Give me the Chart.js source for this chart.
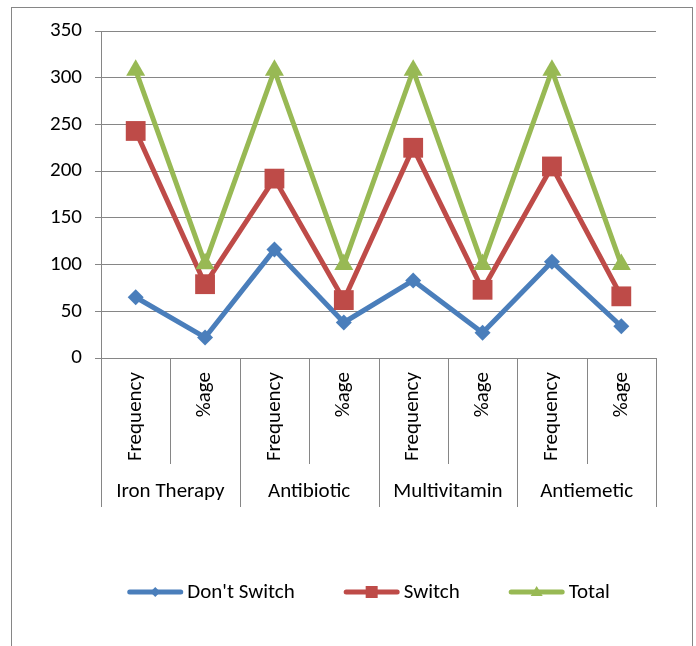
<!DOCTYPE html>
<html>
<head>
<meta charset="utf-8">
<title>Switching by drug class</title>
<script src="https://cdn.jsdelivr.net/npm/chart.js@4/dist/chart.umd.min.js"></script>
<style>
  html, body { margin: 0; padding: 0; background: #fff; }
  canvas { display: block; }
</style>
</head>
<body>
<canvas id="chart" width="696" height="646"></canvas>
<script>
// Drug classes and the two measures reported for each
const groups = ["Iron Therapy", "Antibiotic", "Multivitamin", "Antiemetic"];
const subLabels = ["Frequency", "%age"];
const categories = groups.flatMap(g => subLabels.map(s => s));

// Series values (Frequency, %age per drug class)
const dontSwitch = [65, 22, 116, 38, 83, 27, 103, 34];
const switched   = [243, 79, 192, 62, 225, 73, 205, 66];
const total      = [308, 101, 308, 100, 308, 100, 308, 100];

const yTicks = [0, 50, 100, 150, 200, 250, 300, 350];

const FONT = "Carlito, 'Liberation Sans', Arial, sans-serif";
const FONT_SIZE = 21;
const GRID = "#868686";
const BLUE = "#4A7EBB", RED = "#BE4B48", GREEN = "#98B954";

// Outer frame around the whole chart
const frame = {
  id: 'frame',
  beforeDraw(chart) {
    const ctx = chart.ctx;
    ctx.save();
    ctx.fillStyle = '#fff';
    ctx.fillRect(0, 0, chart.width, chart.height);
    ctx.strokeStyle = GRID;
    ctx.lineWidth = 1;
    ctx.strokeRect(11.5, 7.5, 681, 700);
    ctx.restore();
  }
};

// Two-level category axis: dividers plus drug-class labels
const groupAxis = {
  id: 'groupAxis',
  afterDraw(chart) {
    const x = chart.scales.x, ctx = chart.ctx;
    const top = x.top;
    const step = x.getPixelForValue(1) - x.getPixelForValue(0);
    ctx.save();
    ctx.strokeStyle = GRID;
    ctx.lineWidth = 1;
    for (let i = 0; i <= categories.length; i++) {
      const px = Math.round(x.getPixelForValue(i) - step / 2) + 0.5;
      const long = i % subLabels.length === 0;
      ctx.beginPath();
      ctx.moveTo(px, top);
      ctx.lineTo(px, top + (long ? 149 : 106));
      ctx.stroke();
    }
    ctx.fillStyle = '#000';
    ctx.font = FONT_SIZE + "px " + FONT;
    ctx.textAlign = 'center';
    ctx.textBaseline = 'middle';
    groups.forEach((g, gi) => {
      const a = x.getPixelForValue(gi * subLabels.length);
      const b = x.getPixelForValue(gi * subLabels.length + subLabels.length - 1);
      ctx.fillText(g, (a + b) / 2, top + 134);
    });
    ctx.restore();
  }
};

// Legend with line + marker samples
const lineLegend = {
  id: 'lineLegend',
  afterDraw(chart) {
    const ctx = chart.ctx;
    const y = 592, lineLen = 56, gap = 4, itemGap = 49;
    ctx.save();
    ctx.font = FONT_SIZE + "px " + FONT;
    ctx.textBaseline = 'middle';
    const items = chart.data.datasets.map(ds => ({
      text: ds.label, color: ds.borderColor, style: ds.pointStyle,
      w: lineLen + gap + ctx.measureText(ds.label).width
    }));
    const totalW = items.reduce((s, it) => s + it.w, 0) + itemGap * (items.length - 1);
    let x = 368.5 - totalW / 2;
    items.forEach(it => {
      ctx.strokeStyle = it.color;
      ctx.lineWidth = 5;
      ctx.lineCap = 'round';
      ctx.beginPath();
      ctx.moveTo(x + 2.5, y);
      ctx.lineTo(x + lineLen - 2.5, y);
      ctx.stroke();
      ctx.fillStyle = it.color;
      const cx = x + lineLen / 2;
      ctx.beginPath();
      if (it.style === 'rectRot') {
        ctx.moveTo(cx, y - 5); ctx.lineTo(cx + 5, y); ctx.lineTo(cx, y + 5); ctx.lineTo(cx - 5, y);
      } else if (it.style === 'rect') {
        ctx.rect(cx - 6, y - 6, 12, 12);
      } else {
        ctx.moveTo(cx, y - 6); ctx.lineTo(cx + 6, y + 4); ctx.lineTo(cx - 6, y + 4);
      }
      ctx.closePath();
      ctx.fill();
      ctx.fillStyle = '#000';
      ctx.textAlign = 'left';
      ctx.fillText(it.text, x + lineLen + gap, y + 1);
      x += it.w + itemGap;
    });
    ctx.restore();
  }
};

const common = {
  borderWidth: 5,
  borderJoinStyle: 'round',
  borderCapStyle: 'round',
  tension: 0,
  pointBorderWidth: 0,
  pointHoverRadius: 0
};

new Chart(document.getElementById('chart'), {
  type: 'line',
  data: {
    labels: categories,
    datasets: [
      { ...common, label: "Don't Switch", data: dontSwitch, borderColor: BLUE, backgroundColor: BLUE,
        pointBackgroundColor: BLUE, pointStyle: 'rectRot', pointRadius: 8, order: 3 },
      { ...common, label: "Switch", data: switched, borderColor: RED, backgroundColor: RED,
        pointBackgroundColor: RED, pointStyle: 'rect', pointRadius: 14, order: 2 },
      { ...common, label: "Total", data: total, borderColor: GREEN, backgroundColor: GREEN,
        pointBackgroundColor: GREEN, pointStyle: 'triangle', pointRadius: 11, order: 1 }
    ]
  },
  options: {
    responsive: false,
    animation: false,
    devicePixelRatio: 1,
    layout: { padding: { top: 31, right: 40, bottom: 0, left: 0 } },
    plugins: {
      legend: { display: false },
      tooltip: { enabled: false }
    },
    scales: {
      x: {
        type: 'category',
        offset: true,
        grid: { display: false, drawTicks: false },
        border: { display: true, color: GRID, width: 1 },
        ticks: {
          autoSkip: false, minRotation: 90, maxRotation: 90, padding: 14,
          color: '#000', font: { family: FONT, size: FONT_SIZE }
        },
        afterFit(scale) { scale.height = 288; }
      },
      y: {
        min: 0, max: 350,
        afterBuildTicks(scale) { scale.ticks = yTicks.map(v => ({ value: v })); },
        grid: { color: GRID, lineWidth: 1, tickLength: 6, drawTicks: true },
        border: { display: true, color: GRID, width: 1 },
        ticks: { padding: 13, color: '#000', font: { family: FONT, size: FONT_SIZE } },
        afterFit(scale) { scale.width = 101; }
      }
    }
  },
  plugins: [frame, groupAxis, lineLegend]
});
</script>
</body>
</html>
